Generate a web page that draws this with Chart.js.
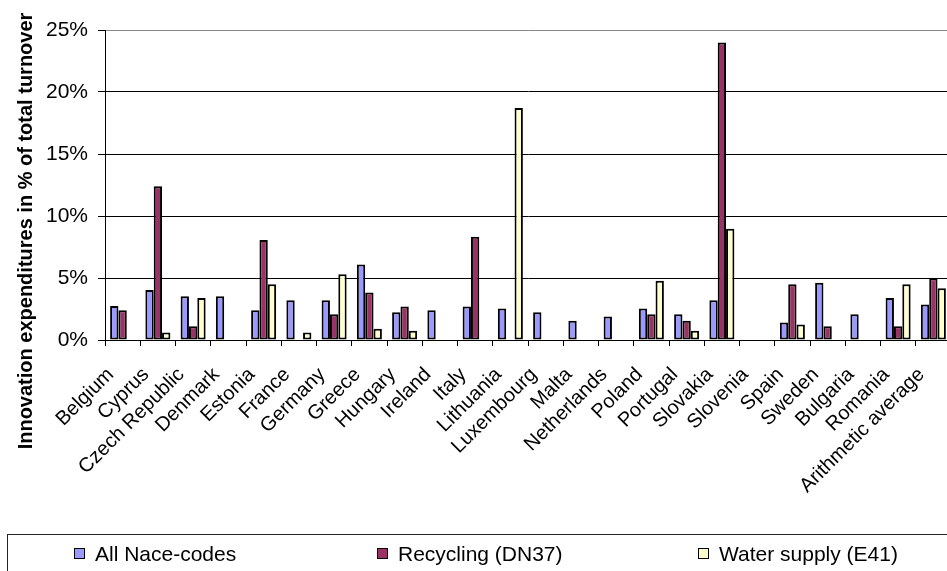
<!DOCTYPE html>
<html>
<head>
<meta charset="utf-8">
<script src="https://cdn.jsdelivr.net/npm/chart.js@4.4.0/dist/chart.umd.min.js"></script>
<style>
  html, body { margin: 0; padding: 0; background: #fff; }
  #wrap { position: relative; width: 947px; height: 571px; overflow: hidden; background: #fff; }
  #c { position: absolute; left: 0; top: 0; }
  #legend { position: absolute; left: 7px; top: 534px; width: 1000px; height: 80px; border: 1px solid #222; box-sizing: border-box; }
  .li { position: absolute; top: 0; font: 21px "Liberation Sans", Arial, sans-serif; color: #000; white-space: nowrap; line-height: 24px; }
  .sw { position: absolute; width: 9px; height: 9px; border: 1.5px solid #000; }
</style>
</head>
<body>
<div id="wrap">
  <canvas id="c" width="960" height="571"></canvas>
  <div id="legend"></div>
</div>
<script>
const categories = ['Belgium','Cyprus','Czech Republic','Denmark','Estonia','France','Germany','Greece','Hungary','Ireland','Italy','Lithuania','Luxembourg','Malta','Netherlands','Poland','Portugal','Slovakia','Slovenia','Spain','Sweden','Bulgaria','Romania','Arithmetic average'];
const seriesNames = ['All Nace-codes', 'Recycling (DN37)', 'Water supply (E41)'];
const allNace   = [2.74, 4.03, 3.52, 3.52, 2.40, 3.20, 3.20, 6.08, 2.23, 2.40, 2.71, 2.55, 2.23, 1.56, 1.90, 2.55, 2.07, 3.20, null, 1.42, 4.62, 2.07, 3.39, 2.87];
const recycling = [2.40, 12.40, 1.10, null, 8.06, null, 2.07, 3.84, 2.71, null, 8.33, null, null, null, null, 2.07, 1.56, 24.00, null, 4.49, 1.10, null, 1.10, 4.97];
const water     = [null, 0.60, 3.39, null, 4.49, 0.60, 5.30, 0.91, 0.75, null, null, 18.70, null, null, null, 4.78, 0.75, 8.98, null, 1.26, null, null, 4.49, 4.17];
const yTicks = [0, 5, 10, 15, 20, 25];
const yTitle = 'Innovation expenditures in % of total turnover';
const colors = ['#9999FF', '#993366', '#FFFFCC'];

const FONT = '"Liberation Sans", Arial, sans-serif';

const yTitlePlugin = {
  id: 'yTitle',
  afterDraw(chart) {
    const ctx = chart.ctx;
    ctx.save();
    ctx.translate(26, 231);
    ctx.rotate(-Math.PI / 2);
    ctx.font = 'bold 20px ' + FONT;
    ctx.fillStyle = '#000';
    ctx.textAlign = 'center';
    ctx.textBaseline = 'middle';
    ctx.fillText(yTitle, 0, 0);
    ctx.restore();
  }
};

const series = [allNace, recycling, water];
const chart = new Chart(document.getElementById('c'), {
  type: 'bar',
  data: {
    labels: categories,
    datasets: series.map((d, i) => ({
      label: seriesNames[i],
      data: d,
      backgroundColor: colors[i],
      borderColor: '#000',
      borderWidth: 2,
      borderSkipped: false,
      categoryPercentage: 0.71,
      barPercentage: 1.0
    }))
  },
  options: {
    responsive: false,
    animation: false,
    devicePixelRatio: 1,
    layout: { padding: { top: 30, left: 0, right: 9, bottom: 0 } },
    plugins: { legend: { display: false }, tooltip: { enabled: false } },
    scales: {
      x: {
        grid: { offset: true, drawOnChartArea: false, drawTicks: true, tickLength: 6, color: '#000', lineWidth: 1 },
        border: { color: '#000', width: 1 },
        ticks: {
          autoSkip: false, maxRotation: 45, minRotation: 45,
          padding: 17, labelOffset: -12,
          color: '#000', font: { family: FONT, size: 20 }
        },
        afterFit(scale) { scale.height = 231; scale.paddingLeft = 0; scale.paddingRight = 0; }
      },
      y: {
        min: 0, max: 25,
        afterBuildTicks(scale) { scale.ticks = yTicks.map(v => ({ value: v })); },
        grid: {
          color: ctx => (ctx.tick && ctx.tick.value === 25) ? '#888' : '#000',
          tickColor: '#000',
          lineWidth: 1, tickLength: 7
        },
        border: { color: '#000', width: 1 },
        ticks: {
          padding: 10, color: '#000', font: { family: FONT, size: 21 },
          callback: v => v + '%'
        },
        afterFit(scale) { scale.width = 105; }
      }
    }
  },
  plugins: [yTitlePlugin]
});

// HTML legend built from the same series
const legend = document.getElementById('legend');
const LEFT = 7, TOP = 534;
const swX = [74, 377, 698];
seriesNames.forEach((name, i) => {
  const sw = document.createElement('div');
  sw.className = 'sw';
  sw.style.left = (swX[i] - LEFT - 1) + 'px';
  sw.style.top = (548 - TOP - 1) + 'px';
  sw.style.background = colors[i];
  legend.appendChild(sw);
  const t = document.createElement('div');
  t.className = 'li';
  t.style.left = (swX[i] + 21 - LEFT - 1) + 'px';
  t.style.top = (554 - TOP - 1 - 12) + 'px';
  t.textContent = name;
  legend.appendChild(t);
});
</script>
</body>
</html>
